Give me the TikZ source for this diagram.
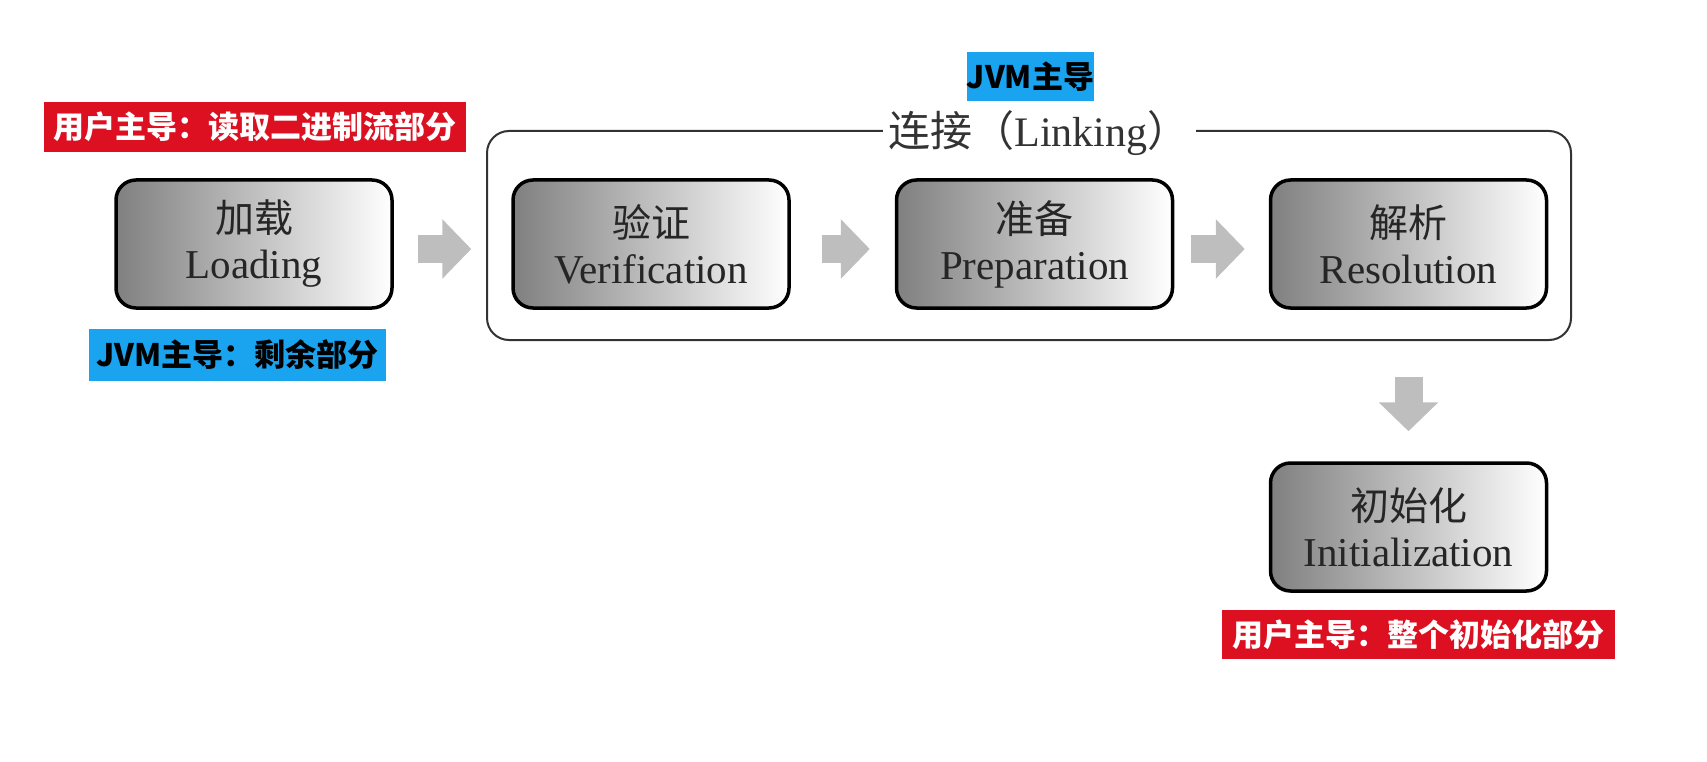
\documentclass[tikz,border=0pt]{standalone}
\usepackage{fontspec}
\setmainfont{Liberation Serif}
\newfontfamily\cjk{Noto Sans CJK SC}
\usetikzlibrary{arrows.meta,calc}
\definecolor{lblred}{HTML}{DC1020}
\definecolor{lblblue}{HTML}{1AA3EE}
\definecolor{arrgray}{HTML}{BEBEBE}
\begin{document}
\begin{tikzpicture}[x=1pt,y=-1pt,
 stage/.style={draw=black, line width=3.5pt, rounded corners=20pt, left color=black!50, right color=white, minimum width=276pt, minimum height=128pt, align=center, font=\fontsize{41}{46}\selectfont, text=black!85},
 tag/.style={font=\cjk\bfseries\fontsize{31}{31}\selectfont, inner sep=0pt},
 bigarr/.style={draw=arrgray, line width=28pt, -{Triangle[length=29pt,width=58pt]}},
]
\useasboundingbox (0,0) rectangle (1707,762);
% container
\node[draw=black!80, line width=2pt, rounded corners=22pt, minimum width=1084pt, minimum height=209pt] (link) at (1029,235.5) {};
\node[fill=white, inner xsep=6pt, inner ysep=2pt, font=\fontsize{42}{42}\selectfont, text=black!80] (ltitle) at (1039,133) {{\cjk 连接（}Linking{\cjk ）}};
% stages
\node[stage] (load) at (254,244) {{\cjk\fontsize{39}{39}\selectfont 加载}\\Loading};
\node[stage] (ver) at (651,244) {{\cjk\fontsize{39}{39}\selectfont 验证}\\Verification};
\node[stage] (prep) at (1034.5,244) {{\cjk\fontsize{39}{39}\selectfont 准备}\\Preparation};
\node[stage] (res) at (1408.5,244) {{\cjk\fontsize{39}{39}\selectfont 解析}\\Resolution};
\node[stage] (init) at (1408.5,527) {{\cjk\fontsize{39}{39}\selectfont 初始化}\\Initialization};
% tags
\node[tag, fill=lblred, text=white, minimum width=422pt, minimum height=50pt] (t1) at (255,127) {用户主导：读取二进制流部分};
\node[tag, fill=lblblue, text=black, minimum width=297pt, minimum height=52pt] (t2) at (237.5,355) {JVM主导：剩余部分};
\node[tag, fill=lblblue, text=black, minimum width=127pt, minimum height=49pt] (t3) at (1030.5,76.5) {JVM主导};
\node[tag, fill=lblred, text=white, minimum width=393pt, minimum height=49pt] (t4) at (1418.5,634.5) {用户主导：整个初始化部分};
% arrows
\draw[bigarr] ([xshift=24pt,yshift=-5pt]load.east) -- ([xshift=-40pt,yshift=-5pt]ver.west);
\draw[bigarr] ([xshift=31pt,yshift=-5pt]ver.east) -- ([xshift=-25pt,yshift=-5pt]prep.west);
\draw[bigarr] ([xshift=17pt,yshift=-5pt]prep.east) -- ([xshift=-24pt,yshift=-5pt]res.west);
\coordinate (dtop) at (res.south |- link.south);
\draw[bigarr] ([yshift=-36pt]dtop) -- ([yshift=30pt]init.north);
\end{tikzpicture}
\end{document}
